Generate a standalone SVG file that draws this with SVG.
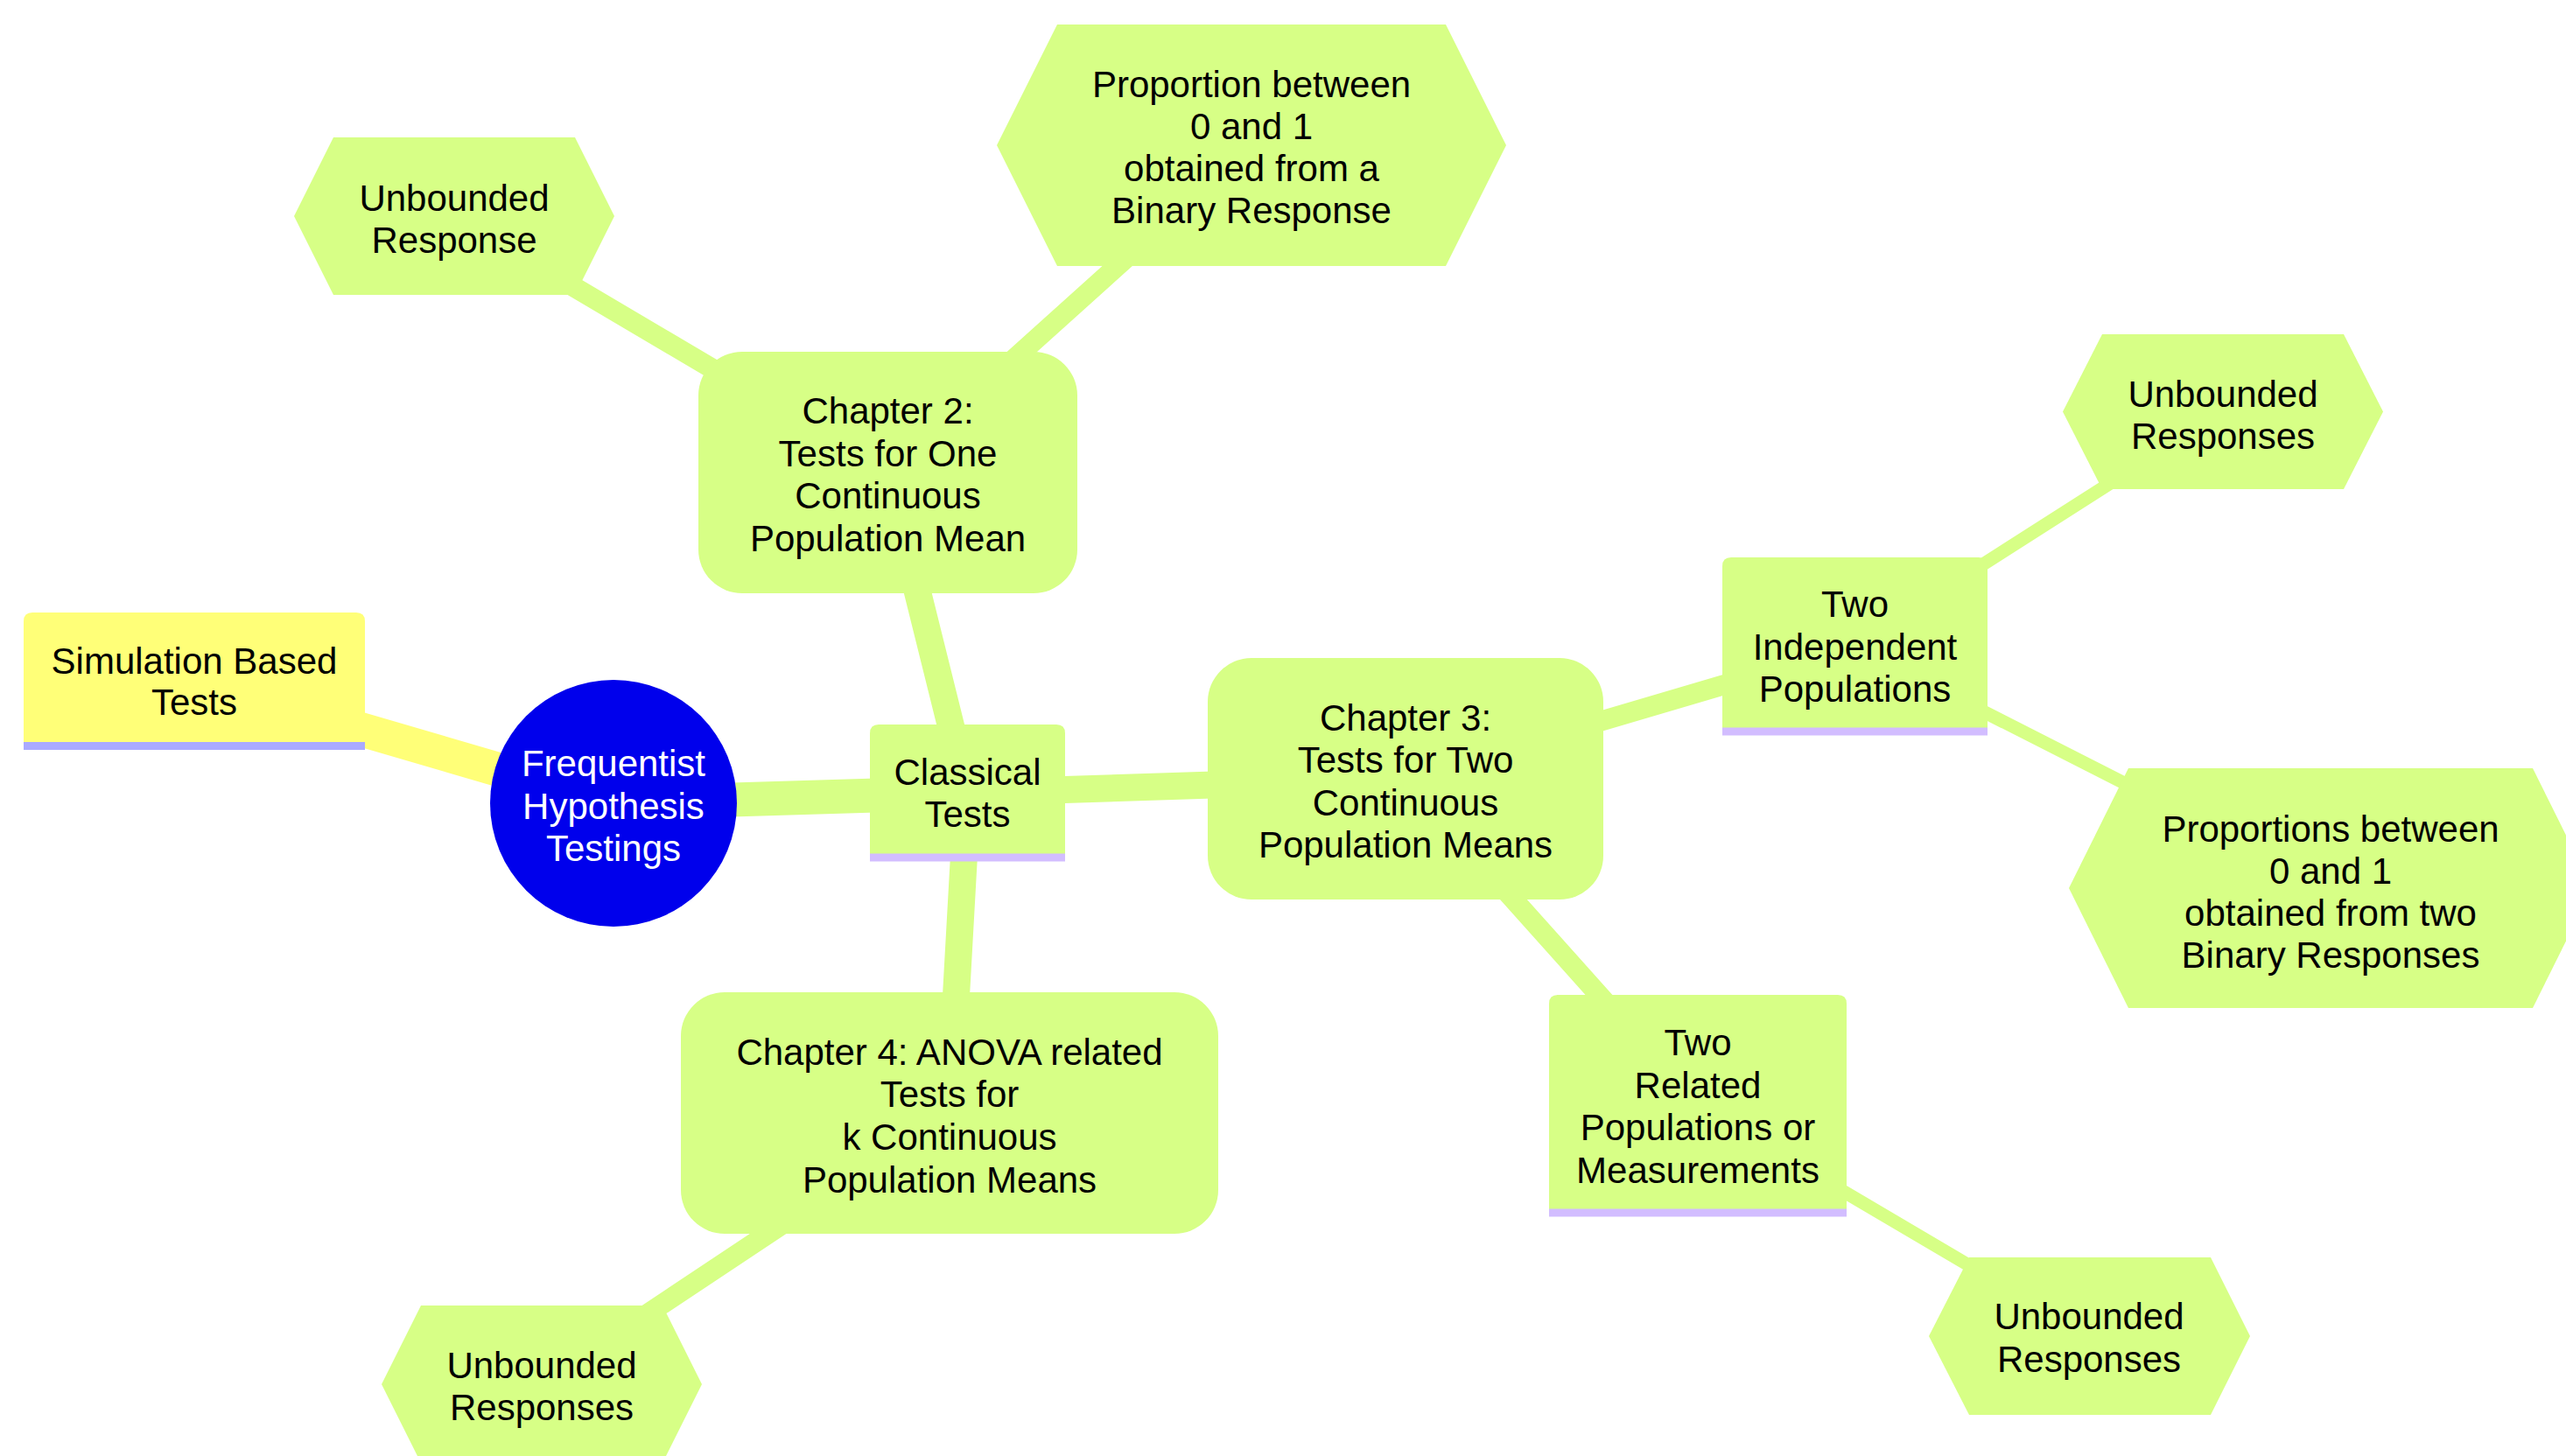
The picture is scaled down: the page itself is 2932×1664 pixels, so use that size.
<svg xmlns="http://www.w3.org/2000/svg" width="2932" height="1664" viewBox="0 0 2932 1664">
<style>
  .bg { fill: #ffffff; }
  .e0 { stroke-width: 39; stroke-linecap: round; }
  .e1 { stroke-width: 31; stroke-linecap: round; }
  .e2 { stroke-width: 23; stroke-linecap: round; }
  .e3 { stroke-width: 15; stroke-linecap: round; }
  .ey { stroke: #ffff78; }
  .eg { stroke: #d7ff86; }
  .fy { fill: #ffff78; }
  .fg { fill: #d7ff86; }
  .fb { fill: #0000ec; }
  .ly { stroke: #aaaaff; stroke-width: 9; }
  .lg { stroke: #d2bdff; stroke-width: 9; }
  text { font-family: "Liberation Sans", Arial, sans-serif; font-size: 42px; text-anchor: middle; fill: #000000; }
  .tw { fill: #ffffff; }
</style>
<rect class="bg" x="0" y="0" width="2932" height="1664"/>

<g id="connectors">
  <line class="e0 ey" x1="701" y1="918" x2="222" y2="778"/>
  <line class="e0 eg" x1="701" y1="918" x2="1105.5" y2="906"/>
  <line class="e1 eg" x1="1105.5" y1="906" x2="1014.5" y2="540"/>
  <line class="e1 eg" x1="1105.5" y1="906" x2="1606" y2="890"/>
  <line class="e1 eg" x1="1105.5" y1="906" x2="1085" y2="1272"/>
  <line class="e2 eg" x1="1014.5" y1="540" x2="519" y2="247"/>
  <line class="e2 eg" x1="1014.5" y1="540" x2="1430" y2="166"/>
  <line class="e2 eg" x1="1606" y1="890" x2="2119.5" y2="738.5"/>
  <line class="e2 eg" x1="1606" y1="890" x2="1940" y2="1263.5"/>
  <line class="e2 eg" x1="1085" y1="1272" x2="619" y2="1582"/>
  <line class="e3 eg" x1="2119.5" y1="738.5" x2="2540" y2="470"/>
  <line class="e3 eg" x1="2119.5" y1="738.5" x2="2663" y2="1015"/>
  <line class="e3 eg" x1="1940" y1="1263.5" x2="2387" y2="1527"/>
</g>

<g id="node-root">
  <circle class="fb" cx="701" cy="918" r="141"/>
  <text class="tw" x="701" y="887">Frequentist</text>
  <text class="tw" x="701" y="935.5">Hypothesis</text>
  <text class="tw" x="701" y="984">Testings</text>
</g>

<g id="node-simulation">
  <path class="fy" d="M27 710 Q27 700 37 700 L407 700 Q417 700 417 710 L417 852 L27 852 Z"/>
  <line class="ly" x1="27" y1="852.5" x2="417" y2="852.5"/>
  <text x="222" y="770">Simulation Based</text>
  <text x="222" y="817">Tests</text>
</g>

<g id="node-classical">
  <path class="fg" d="M994 838 Q994 828 1004 828 L1207 828 Q1217 828 1217 838 L1217 980 L994 980 Z"/>
  <line class="lg" x1="994" y1="980" x2="1217" y2="980"/>
  <text x="1105.5" y="897">Classical</text>
  <text x="1105.5" y="945">Tests</text>
</g>

<g id="node-ch2">
  <rect class="fg" x="798" y="402" width="433" height="276" rx="50" ry="50"/>
  <text x="1014.5" y="484">Chapter 2:</text>
  <text x="1014.5" y="532.5">Tests for One</text>
  <text x="1014.5" y="581">Continuous</text>
  <text x="1014.5" y="629.5">Population Mean</text>
</g>

<g id="node-ch2-unbounded">
  <polygon class="fg" points="381,157 657,157 702,247 657,337 381,337 336,247"/>
  <text x="519" y="241">Unbounded</text>
  <text x="519" y="289">Response</text>
</g>

<g id="node-ch2-proportion">
  <polygon class="fg" points="1208,28 1652,28 1721,166 1652,304 1208,304 1139,166"/>
  <text x="1430" y="111">Proportion between</text>
  <text x="1430" y="159">0 and 1</text>
  <text x="1430" y="207">obtained from a</text>
  <text x="1430" y="255">Binary Response</text>
</g>

<g id="node-ch3">
  <rect class="fg" x="1380" y="752" width="452" height="276" rx="50" ry="50"/>
  <text x="1606" y="835">Chapter 3:</text>
  <text x="1606" y="883">Tests for Two</text>
  <text x="1606" y="932">Continuous</text>
  <text x="1606" y="980">Population Means</text>
</g>

<g id="node-two-independent">
  <path class="fg" d="M1968 647 Q1968 637 1978 637 L2261 637 Q2271 637 2271 647 L2271 836 L1968 836 Z"/>
  <line class="lg" x1="1968" y1="836" x2="2271" y2="836"/>
  <text x="2119.5" y="705">Two</text>
  <text x="2119.5" y="754">Independent</text>
  <text x="2119.5" y="802">Populations</text>
</g>

<g id="node-ind-unbounded">
  <polygon class="fg" points="2402,382 2678,382 2723,470.5 2678,559 2402,559 2357,470.5"/>
  <text x="2540" y="465">Unbounded</text>
  <text x="2540" y="513">Responses</text>
</g>

<g id="node-ind-proportions">
  <polygon class="fg" points="2432,878 2894,878 2962,1015 2894,1152 2432,1152 2364,1015"/>
  <text x="2663" y="962">Proportions between</text>
  <text x="2663" y="1010">0 and 1</text>
  <text x="2663" y="1058">obtained from two</text>
  <text x="2663" y="1106">Binary Responses</text>
</g>

<g id="node-two-related">
  <path class="fg" d="M1770 1147 Q1770 1137 1780 1137 L2100 1137 Q2110 1137 2110 1147 L2110 1386 L1770 1386 Z"/>
  <line class="lg" x1="1770" y1="1386" x2="2110" y2="1386"/>
  <text x="1940" y="1206">Two</text>
  <text x="1940" y="1255">Related</text>
  <text x="1940" y="1303">Populations or</text>
  <text x="1940" y="1352">Measurements</text>
</g>

<g id="node-rel-unbounded">
  <polygon class="fg" points="2250,1437 2526,1437 2571,1527 2526,1617 2250,1617 2204,1527"/>
  <text x="2387" y="1519">Unbounded</text>
  <text x="2387" y="1568">Responses</text>
</g>

<g id="node-ch4">
  <rect class="fg" x="778" y="1134" width="614" height="276" rx="50" ry="50"/>
  <text x="1085" y="1217">Chapter 4: ANOVA related</text>
  <text x="1085" y="1265">Tests for</text>
  <text x="1085" y="1314">k Continuous</text>
  <text x="1085" y="1363">Population Means</text>
</g>

<g id="node-ch4-unbounded">
  <polygon class="fg" points="481,1492 757,1492 802,1582 757,1672 481,1672 436,1582"/>
  <text x="619" y="1575">Unbounded</text>
  <text x="619" y="1623">Responses</text>
</g>
</svg>
